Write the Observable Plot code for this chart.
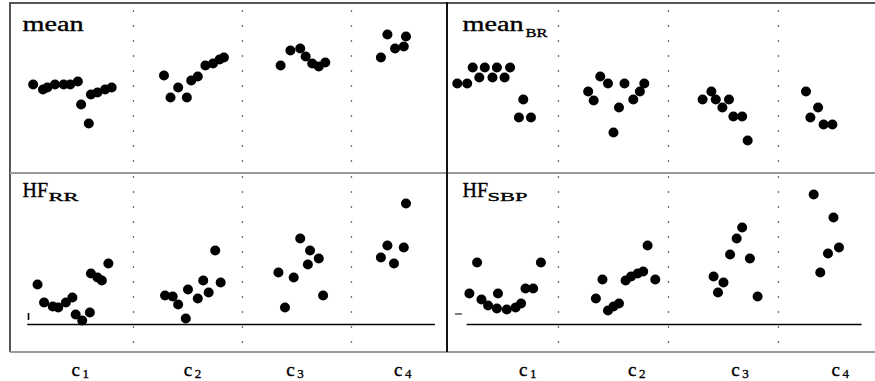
<!DOCTYPE html>
<html><head><meta charset="utf-8">
<script src="https://cdn.jsdelivr.net/npm/d3@7"></script>
<script src="https://cdn.jsdelivr.net/npm/@observablehq/plot@0.6"></script>
<style>
html,body{margin:0;padding:0;background:#fff;overflow:hidden}
#chart{position:relative;width:875px;height:381px;background:#fff}
.panel{position:absolute}
.panel svg{overflow:visible;background:transparent}
.ln{position:absolute}
</style></head><body><div id="chart"></div>
<script>
// ---- data ----
const categories = ["c1", "c2", "c3", "c4"];
const catLetter = "c";
const catSub = ["1", "2", "3", "4"];
const boundaries = [1, 2, 3];               // category boundaries (dotted lines)
const labelPosLeft = [0.47, 1.50, 2.44, 3.43];
const labelPosRight = [0.68, 1.67, 2.61, 3.52];

// panel "mean" (top left)
const meanX = [0.08,0.17,0.21,0.28,0.36,0.42,0.49,0.52,0.59,0.61,0.67,0.74,0.80,
               1.28,1.41,1.34,1.49,1.53,1.59,1.66,1.73,1.79,1.83,
               2.35,2.44,2.53,2.58,2.64,2.70,2.76,
               3.27,3.33,3.40,3.48,3.50];
const meanY = [52.4,49.4,50.6,52.4,52.4,52.4,54.1,40.6,29.4,46.5,47.6,49.4,50.6,
               57.6,50.6,44.7,44.7,54.7,57.1,63.5,64.7,67.1,68.2,
               63.5,72.4,73.5,68.8,64.7,62.9,65.3,
               68.2,81.8,73.5,74.7,80.6];

// panel "mean_BR" (top right)
const meanBRX = [0.22,0.33,0.44,0.56,0.28,0.40,0.51,0.08,0.17,0.68,0.64,0.75,
                 1.38,1.45,1.27,1.32,1.60,1.78,1.74,1.68,1.55,1.50,
                 2.39,2.31,2.43,2.55,2.49,2.59,2.67,2.72,
                 3.25,3.36,3.29,3.41,3.49];
const meanBRY = [62.4,62.4,62.4,62.4,56.5,56.5,56.5,52.9,52.9,43.5,32.9,32.9,
                 57.1,52.9,48.2,42.9,52.9,52.9,48.2,43.5,38.8,24.1,
                 48.2,43.5,43.5,43.5,38.8,33.5,33.5,19.4,
                 48.2,38.8,32.9,28.8,28.8];

// panel "HF_RR" (bottom left)
const hfRRX = [0.12,0.18,0.26,0.31,0.38,0.44,0.47,0.53,0.60,0.61,0.67,0.71,0.77,
               1.29,1.36,1.41,1.48,1.50,1.59,1.64,1.69,1.80,1.75,
               2.53,2.62,2.70,2.60,2.33,2.47,2.39,2.74,
               3.50,3.33,3.48,3.27,3.39];
const hfRRY = [26.7,14.7,12.0,11.3,14.7,18.0,6.7,2.7,8.0,34.0,31.3,29.3,40.7,
               19.3,18.7,13.3,4.0,23.3,17.3,29.3,21.3,28.0,49.3,
               57.3,49.3,44.0,40.0,34.7,31.3,11.3,19.3,
               80.7,52.7,51.3,44.7,40.7];

// panel "HF_SBP" (bottom right)
const hfSBPX = [0.26,0.84,0.19,0.30,0.36,0.44,0.53,0.61,0.66,0.45,0.70,0.77,
                1.34,1.40,1.45,1.50,1.55,1.61,1.66,1.72,1.77,1.88,1.81,
                2.67,2.62,2.56,2.74,2.41,2.50,2.45,2.81,
                3.32,3.50,3.45,3.55,3.38];
const hfSBPY = [41.3,41.3,20.7,16.7,12.7,10.7,10.0,11.3,14.0,20.7,24.0,24.0,
                17.3,30.0,9.3,12.0,14.0,29.3,32.0,34.0,35.3,30.0,52.7,
                64.7,57.3,46.7,44.0,32.0,28.0,21.3,18.7,
                86.7,71.3,47.3,51.3,34.7];

// ---- drawing ----
const serif = "'Liberation Serif', 'Times New Roman', serif";
const chart = document.getElementById("chart");

function line(l, t, w, h, c) {
  const d = document.createElement("div");
  d.className = "ln";
  Object.assign(d.style, {left: l + "px", top: t + "px", width: w + "px", height: h + "px", background: c});
  chart.appendChild(d);
}

function panel(cfg) {
  const data = cfg.xs.map((x, i) => ({x, y: cfg.ys[i]}));
  const txt = {fontFamily: serif, fill: "#000", stroke: "#000", strokeWidth: 0.35};
  const marks = [
    Plot.ruleX(boundaries, {stroke: "#444", strokeWidth: 1.3, strokeDasharray: "1.3,13.7", strokeDashoffset: cfg.dashOffset})
  ];
  if (cfg.baseline) marks.push(Plot.ruleY([0], {x1: cfg.baseline[0], x2: cfg.baseline[1], stroke: "#000", strokeWidth: 1.6}));
  if (cfg.tickMark === "v") marks.push(Plot.ruleX([0.037], {y1: 2.7, y2: 7.3, stroke: "#000", strokeWidth: 1.6}));
  if (cfg.tickMark === "h") marks.push(Plot.ruleY([7], {x1: 0.064, x2: 0.127, stroke: "#000", strokeWidth: 1}));
  marks.push(Plot.dot(data, {x: "x", y: "y", r: 5, fill: "#000", stroke: "none"}));
  marks.push(Plot.text([cfg.title], {frameAnchor: "top-left", lineAnchor: "top", textAnchor: "start",
    dx: cfg.titleDx, dy: cfg.titleDy, fontSize: 20, ...txt}));
  if (cfg.sub) marks.push(Plot.text([cfg.sub], {frameAnchor: "top-left", lineAnchor: "top", textAnchor: "start",
    dx: cfg.subDx, dy: cfg.subDy, fontSize: 13, ...txt}));
  if (cfg.labels) {
    const lab = cfg.labels.map((p, i) => ({p, s: catSub[i], c: catLetter}));
    marks.push(Plot.text(lab, {x: "p", text: "c", frameAnchor: "bottom", lineAnchor: "middle",
      dy: 17, fontSize: 19, ...txt}));
    marks.push(Plot.text(lab, {x: "p", text: "s", frameAnchor: "bottom", lineAnchor: "middle",
      dx: 10, dy: 21, fontSize: 13, ...txt}));
  }
  const svg = Plot.plot({
    width: cfg.width, height: cfg.height,
    marginLeft: 0, marginRight: 0, marginTop: 0, marginBottom: cfg.marginBottom || 0,
    x: {domain: cfg.xDomain, axis: null},
    y: {domain: cfg.yDomain, axis: null},
    style: {background: "transparent", overflow: "visible"},
    marks
  });
  if (cfg.titleLen) {
    d3.select(svg).selectAll("text").filter(function () { return this.textContent === cfg.title; })
      .attr("textLength", cfg.titleLen).attr("lengthAdjust", "spacingAndGlyphs");
  }
  if (cfg.subLen) {
    d3.select(svg).selectAll("text").filter(function () { return this.textContent === cfg.sub; })
      .attr("textLength", cfg.subLen).attr("lengthAdjust", "spacingAndGlyphs");
  }
  const div = document.createElement("div");
  div.className = "panel";
  div.style.left = cfg.left + "px";
  div.style.top = cfg.top + "px";
  div.appendChild(svg);
  chart.appendChild(div);
}

const leftDomain = [-0.128, 3.881];
const rightDomain = [-0.009, 3.882];
const topDomain = [0, 100];
const bottomDomain = [-18.67, 100.67];

// frame lines
line(10, 2, 865, 2, "#555");
line(9, 2, 2, 350, "#555");
line(10, 172, 865, 2, "#9a9a9a");
line(10, 351, 865, 1.5, "#9a9a9a");
line(446, 2, 2, 350, "#111");

panel({xs: meanX, ys: meanY, title: "mean", titleLen: 61, titleDx: 12, titleDy: 13,
  left: 10, top: 3, width: 437, height: 170, xDomain: leftDomain, yDomain: topDomain, dashOffset: -7.35});
panel({xs: meanBRX, ys: meanBRY, title: "mean", titleLen: 61, titleDx: 15, titleDy: 13,
  sub: "BR", subDx: 78, subDy: 24, subLen: 22,
  left: 447, top: 3, width: 428, height: 170, xDomain: rightDomain, yDomain: topDomain, dashOffset: -7.35});
panel({xs: hfRRX, ys: hfRRY, title: "HF", titleDx: 12, titleDy: 9,
  sub: "RR", subDx: 38, subDy: 18, subLen: 30, tickMark: "v",
  left: 10, top: 173, width: 437, height: 208, marginBottom: 29, xDomain: leftDomain, yDomain: bottomDomain,
  dashOffset: -3.35, baseline: [0.03, 3.77], labels: labelPosLeft});
panel({xs: hfSBPX, ys: hfSBPY, title: "HF", titleDx: 15, titleDy: 9,
  sub: "SBP", subDx: 40, subDy: 18, subLen: 40, tickMark: "h",
  left: 447, top: 173, width: 428, height: 208, marginBottom: 29, xDomain: rightDomain, yDomain: bottomDomain,
  dashOffset: -3.35, baseline: [0.17, 3.76], labels: labelPosRight});
</script></body></html>
